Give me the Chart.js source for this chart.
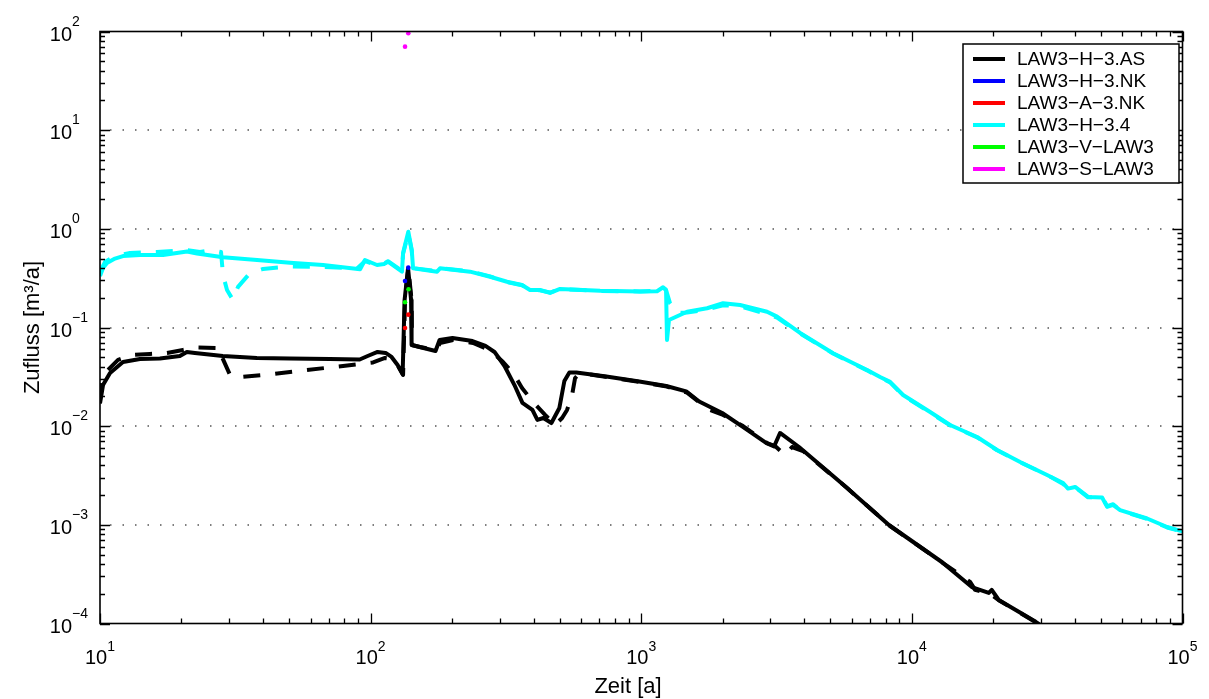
<!DOCTYPE html>
<html>
<head>
<meta charset="utf-8">
<script src="https://cdn.jsdelivr.net/npm/chart.js@4.4.1/dist/chart.umd.min.js"></script>
<style>
html, body { margin: 0; padding: 0; background: #fff; }
canvas { display: block; }
</style>
</head>
<body>
<canvas id="zufluss" width="1209" height="699"></canvas>
<script>
// LAW3-H-3.AS (black), solid and dashed variant
const asSolidT = [10.0, 10.26, 10.89, 12.16, 14.05, 16.65, 19.73, 20.94, 22.42, 28.44, 37.96, 50.24, 70.6, 91.1, 97.5, 106.1, 113.6, 119.5, 125.8, 131.3, 133.5, 137.5, 141.1, 141.7, 151.6, 173.7, 179.8, 200.7, 237.9, 265.7, 286.9, 312.4, 340, 363.9, 396.1, 413.3, 434.9, 465.6, 498.3, 519.9, 542.5, 575.6, 742.9, 983, 1237, 1466, 1637, 1991, 2359, 2893, 3096, 3257, 3828, 5708, 8226, 12900, 16650, 19240, 19730, 20940, 28680, 32000];
const asSolidQ = [0.017, 0.0261, 0.0346, 0.0447, 0.048, 0.0485, 0.0514, 0.0565, 0.0552, 0.0514, 0.0491, 0.0485, 0.048, 0.0474, 0.0514, 0.0565, 0.0552, 0.0503, 0.0417, 0.0338, 0.19, 0.401, 0.19, 0.0665, 0.0634, 0.0578, 0.0746, 0.0783, 0.0729, 0.065, 0.0565, 0.0407, 0.0261, 0.0172, 0.0146, 0.01156, 0.0121, 0.01076, 0.0153, 0.0287, 0.035, 0.035, 0.0319, 0.0284, 0.0255, 0.0225, 0.0178, 0.0136, 0.00993, 0.00676, 0.00622, 0.00853, 0.00615, 0.00242, 0.000996, 0.00042, 0.000234, 0.000204, 0.000219, 0.000173, 0.000104, 0.000085];
const asDashT = [10.0, 10.17, 10.61, 11.66, 13.13, 15.3, 17.69, 20.26, 22.83, 27.77, 28.24, 30.23, 32.91, 43.6, 58.2, 79.07, 102.1, 113.0, 120.0, 126.3, 131.8, 134.0, 137.8, 141.7, 142.2, 152.3, 174.5, 180.5, 201.6, 239.0, 276.2, 308.6, 335.9, 362.6, 398.4, 441.2, 480.3, 509.9, 531.9, 555.1, 569.4, 594.1, 747.2, 990, 1245, 1477, 1650, 1796, 2006, 2378, 2917, 3123, 3399, 3608, 3962, 5761, 8307, 13040, 16410, 17120, 19450, 21180, 29020, 32410];
const asDashQ = [0.0184, 0.0294, 0.0363, 0.0469, 0.0527, 0.0539, 0.0551, 0.0592, 0.0627, 0.062, 0.0502, 0.033, 0.0315, 0.0338, 0.0371, 0.0407, 0.0442, 0.0491, 0.048, 0.0407, 0.033, 0.19, 0.40, 0.19, 0.0665, 0.0634, 0.059, 0.0697, 0.0747, 0.0697, 0.059, 0.0447, 0.0346, 0.0244, 0.0176, 0.013, 0.0103, 0.0121, 0.0146, 0.0207, 0.0307, 0.0346, 0.0315, 0.0281, 0.0252, 0.0219, 0.0172, 0.0146, 0.013, 0.01002, 0.00674, 0.00628, 0.00509, 0.00615, 0.0056, 0.00236, 0.000973, 0.00041, 0.000264, 0.000219, 0.000199, 0.000169, 0.000101, 0.000086];

// LAW3-H-3.4 (cyan), solid and dashed variant
const h34SolidT = [10, 10.26, 10.61, 11.36, 12.16, 14.06, 17.09, 20.97, 22.83, 28.48, 38.04, 50.36, 66.7, 91.4, 95.3, 105.6, 112.1, 115.9, 130.6, 131.8, 137.8, 141.9, 143.5, 176.0, 180.5, 233.0, 276.2, 319.2, 362.6, 388.1, 422.7, 460.3, 501.2, 704.3, 989.9, 1144, 1204, 1235, 1245, 1266, 1477, 1751, 2006, 2318, 2917, 3176, 3863, 5114, 6830, 7630, 8307, 9278, 11680, 13840, 17420, 20650, 25120, 31590, 36220, 37770, 40110, 44790, 50460, 52660, 55410, 58810, 73990, 87750, 100000];
const h34SolidQ = [0.333, 0.401, 0.451, 0.50, 0.53, 0.543, 0.543, 0.589, 0.562, 0.515, 0.483, 0.454, 0.43, 0.389, 0.483, 0.43, 0.44, 0.464, 0.368, 0.569, 0.935, 0.61, 0.398, 0.368, 0.398, 0.368, 0.327, 0.291, 0.27, 0.24, 0.24, 0.224, 0.246, 0.236, 0.232, 0.233, 0.2556, 0.24, 0.0747, 0.119, 0.1445, 0.1566, 0.176, 0.169, 0.1445, 0.1288, 0.088, 0.0548, 0.0371, 0.0315, 0.0281, 0.0207, 0.0139, 0.01028, 0.00776, 0.00573, 0.00434, 0.0032, 0.00265, 0.00233, 0.00242, 0.00192, 0.00189, 0.00152, 0.00159, 0.00141, 0.00116, 0.00095, 0.000857];
const h34DashT = [10.0, 10.43, 11.36, 12.91, 16.24, 20.97, 23.42, 25.94, 28.0, 28.48, 29.47, 31.0, 32.36, 35.84, 40.04, 50.36, 66.7, 89.1, 95.3, 105.6, 112.1, 115.9, 130.6, 131.8, 137.8, 141.9, 143.5, 176.0, 180.5, 233.0, 276.2, 319.2, 362.6, 388.1, 422.7, 460.3, 501.2, 704.3, 989.9, 1144, 1204, 1235, 1277, 1356, 1477, 1751, 2006, 2318, 2917, 3176, 3863, 5114, 6830, 7630, 8307, 9278, 11680, 13840, 17420, 20650, 25120, 31590, 36220, 37770, 40110, 44790, 50460, 52660, 55410, 58810, 73990, 87750, 100000];
const h34DashQ = [0.365, 0.461, 0.53, 0.569, 0.582, 0.61, 0.582, 0.61, 0.582, 0.34, 0.24, 0.19, 0.258, 0.357, 0.392, 0.415, 0.41, 0.396, 0.47, 0.43, 0.445, 0.47, 0.375, 0.56, 0.9, 0.6, 0.40, 0.372, 0.40, 0.372, 0.33, 0.288, 0.268, 0.24, 0.238, 0.226, 0.245, 0.235, 0.232, 0.235, 0.255, 0.24, 0.177, 0.14, 0.142, 0.152, 0.168, 0.164, 0.137, 0.126, 0.087, 0.0545, 0.0368, 0.031, 0.0278, 0.0205, 0.0137, 0.0102, 0.0077, 0.0057, 0.0043, 0.0032, 0.0026, 0.00235, 0.0024, 0.0019, 0.0019, 0.00155, 0.00162, 0.0014, 0.00115, 0.00094, 0.00085];

// single points of the other series
const nkH3T = [134.0, 137.8];
const nkH3Q = [0.296, 0.404];
const nkA3T = [134.0, 137.8];
const nkA3Q = [0.0989, 0.135];
const vLawT = [134.0, 138.1];
const vLawQ = [0.180, 0.244];
const sLawT = [134.0, 137.8];
const sLawQ = [70.2, 95.9];

const seriesNames = ['LAW3\u2212H\u22123.AS', 'LAW3\u2212H\u22123.NK', 'LAW3\u2212A\u22123.NK', 'LAW3\u2212H\u22123.4', 'LAW3\u2212V\u2212LAW3', 'LAW3\u2212S\u2212LAW3'];
const seriesColors = ['#000000', '#0000ff', '#ff0000', '#00ffff', '#00ff00', '#ff00ff'];

const xTickExp = [1, 2, 3, 4, 5];
const yTickExp = [-4, -3, -2, -1, 0, 1, 2];
const xTitle = 'Zeit [a]';
const yTitle = 'Zufluss [m\u00b3/a]';

function pts(ts, qs) {
    return ts.map((t, i) => ({x: t, y: qs[i]}));
}

function lineSet(label, ts, qs, color, dashed, order) {
    return {
        label: label,
        data: pts(ts, qs),
        borderColor: color,
        backgroundColor: color,
        borderWidth: 4,
        borderDash: dashed ? [17, 15] : [],
        borderJoinStyle: 'round',
        pointRadius: 0,
        tension: 0,
        fill: false,
        order: order
    };
}

function dotSet(label, ts, qs, color) {
    return {
        label: label,
        data: pts(ts, qs),
        showLine: false,
        pointRadius: 2.3,
        pointBorderWidth: 0,
        pointBackgroundColor: color,
        order: 1
    };
}

function expText(e) {
    return e < 0 ? '\u2212' + Math.abs(e) : String(e);
}

const FONT = '"Liberation Sans", Arial, Helvetica, sans-serif';

// matlab-like box, inside ticks, dotted y grid, labels and legend
const frame = {
    id: 'frame',
    beforeDatasetsDraw(chart) {
        const ctx = chart.ctx, a = chart.chartArea, y = chart.scales.y;
        ctx.save();
        ctx.strokeStyle = '#555';
        ctx.lineWidth = 1.5;
        ctx.setLineDash([1.5, 11]);
        yTickExp.forEach(e => {
            const py = Math.round(y.getPixelForValue(Math.pow(10, e)));
            if (py <= a.top + 2 || py >= a.bottom - 2) return;
            ctx.beginPath();
            ctx.moveTo(a.left + 10, py);
            ctx.lineTo(a.right, py);
            ctx.stroke();
        });
        ctx.restore();
    },
    afterDatasetsDraw(chart) {
        const ctx = chart.ctx, a = chart.chartArea;
        const x = chart.scales.x, y = chart.scales.y;
        ctx.save();
        ctx.strokeStyle = '#000';
        ctx.fillStyle = '#000';
        ctx.lineWidth = 1.3;

        // ticks
        ctx.beginPath();
        for (let e = xTickExp[0]; e <= xTickExp[xTickExp.length - 1]; e++) {
            for (let k = 1; k <= 9; k++) {
                const v = k * Math.pow(10, e);
                if (v > Math.pow(10, xTickExp[xTickExp.length - 1])) break;
                const px = Math.round(x.getPixelForValue(v)) + 0.5;
                const len = k === 1 ? 10 : 5;
                ctx.moveTo(px, a.bottom); ctx.lineTo(px, a.bottom - len);
                ctx.moveTo(px, a.top); ctx.lineTo(px, a.top + len);
            }
        }
        for (let e = yTickExp[0]; e <= yTickExp[yTickExp.length - 1]; e++) {
            for (let k = 1; k <= 9; k++) {
                const v = k * Math.pow(10, e);
                if (v > Math.pow(10, yTickExp[yTickExp.length - 1])) break;
                const py = Math.round(y.getPixelForValue(v)) + 0.5;
                const len = k === 1 ? 10 : 5;
                ctx.moveTo(a.left, py); ctx.lineTo(a.left + len, py);
                ctx.moveTo(a.right, py); ctx.lineTo(a.right - len, py);
            }
        }
        ctx.stroke();
        ctx.lineWidth = 1.6;
        ctx.strokeRect(a.left, a.top, a.right - a.left, a.bottom - a.top);

        // tick labels
        const big = '20px ' + FONT, small = '14px ' + FONT;
        ctx.textBaseline = 'alphabetic';
        xTickExp.forEach(e => {
            const px = x.getPixelForValue(Math.pow(10, e));
            ctx.font = big;
            const w1 = ctx.measureText('10').width;
            ctx.font = small;
            const w2 = ctx.measureText(expText(e)).width;
            const left = px - (w1 + w2) / 2;
            ctx.textAlign = 'left';
            ctx.font = big;
            ctx.fillText('10', left, a.bottom + 40);
            ctx.font = small;
            ctx.fillText(expText(e), left + w1, a.bottom + 27);
        });
        yTickExp.forEach(e => {
            const py = y.getPixelForValue(Math.pow(10, e));
            ctx.font = big;
            ctx.textAlign = 'right';
            ctx.fillText('10', a.left - 28, py + 9);
            ctx.font = small;
            ctx.textAlign = 'left';
            ctx.fillText(expText(e), a.left - 28, py - 6);
        });

        // axis titles
        ctx.font = '22px ' + FONT;
        ctx.textAlign = 'center';
        ctx.fillText(xTitle, 628, a.bottom + 69);
        ctx.save();
        ctx.translate(39, (a.top + a.bottom) / 2);
        ctx.rotate(-Math.PI / 2);
        ctx.fillText(yTitle, 0, 0);
        ctx.restore();

        // legend
        const lx = 963, ly = 44, lw = 216, lh = 139;
        ctx.fillStyle = '#fff';
        ctx.fillRect(lx, ly, lw, lh);
        ctx.strokeStyle = '#000';
        ctx.lineWidth = 1.5;
        ctx.strokeRect(lx, ly, lw, lh);
        ctx.font = '19px ' + FONT;
        ctx.textAlign = 'left';
        ctx.textBaseline = 'middle';
        seriesNames.forEach((name, i) => {
            const cy = ly + 15 + i * 22;
            ctx.strokeStyle = seriesColors[i];
            ctx.lineWidth = 4;
            ctx.beginPath();
            ctx.moveTo(lx + 10, cy);
            ctx.lineTo(lx + 42, cy);
            ctx.stroke();
            ctx.fillStyle = '#000';
            ctx.fillText(name, lx + 54, cy + 1);
        });
        ctx.restore();
    }
};

const ctx = document.getElementById('zufluss').getContext('2d');
const zuflussChart = new Chart(ctx, {
    type: 'line',
    data: {
        datasets: [
            lineSet(seriesNames[3], h34SolidT, h34SolidQ, seriesColors[3], false, 6),
            lineSet(seriesNames[3], h34DashT, h34DashQ, seriesColors[3], true, 5),
            lineSet(seriesNames[0], asSolidT, asSolidQ, seriesColors[0], false, 4),
            lineSet(seriesNames[0], asDashT, asDashQ, seriesColors[0], true, 3),
            dotSet(seriesNames[1], nkH3T, nkH3Q, seriesColors[1]),
            dotSet(seriesNames[2], nkA3T, nkA3Q, seriesColors[2]),
            dotSet(seriesNames[4], vLawT, vLawQ, seriesColors[4]),
            dotSet(seriesNames[5], sLawT, sLawQ, seriesColors[5])
        ]
    },
    options: {
        responsive: false,
        maintainAspectRatio: false,
        animation: false,
        devicePixelRatio: 1,
        layout: { padding: { left: 100, right: 26.5, top: 31.5, bottom: 75.5 } },
        plugins: { legend: { display: false }, tooltip: { enabled: false } },
        scales: {
            x: { type: 'logarithmic', min: 10, max: 100000, display: false },
            y: { type: 'logarithmic', min: 0.0001, max: 100, display: false }
        }
    },
    plugins: [frame]
});
</script>
</body>
</html>
